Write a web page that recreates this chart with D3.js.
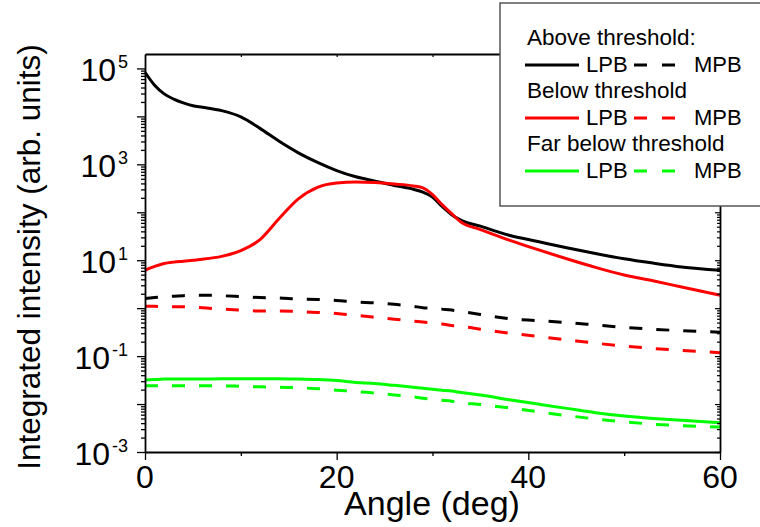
<!DOCTYPE html>
<html>
<head>
<meta charset="utf-8">
<script src="https://cdn.jsdelivr.net/npm/d3@7"></script>
<style>
  body { margin: 0; background: #fff; }
  text { font-family: "Liberation Sans", Arial, sans-serif; fill: #000; }
</style>
</head>
<body>
<script>
// angles (deg) at which the curves were read
let angles = [0, 1, 2, 3, 4, 5, 6, 8, 10, 12, 14, 16, 18, 20, 22, 24, 26, 28, 29, 30, 31, 32, 33, 35, 38, 41, 44, 47, 50, 53, 56, 60];

// log10 of integrated intensity
let aboveLPB = [4.92, 4.65, 4.47, 4.36, 4.28, 4.22, 4.19, 4.12, 3.99, 3.75, 3.48, 3.24, 3.04, 2.87, 2.74, 2.65, 2.56, 2.48, 2.42, 2.32, 2.12, 1.95, 1.83, 1.71, 1.52, 1.39, 1.26, 1.14, 1.03, 0.94, 0.86, 0.79];
let aboveMPB = [0.20, 0.22, 0.24, 0.25, 0.26, 0.27, 0.27, 0.26, 0.24, 0.22, 0.21, 0.19, 0.18, 0.16, 0.13, 0.11, 0.08, 0.04, 0.01, 0.00, -0.02, -0.04, -0.07, -0.13, -0.22, -0.26, -0.30, -0.35, -0.40, -0.44, -0.47, -0.50];
let belowLPB = [0.79, 0.87, 0.93, 0.96, 0.98, 1.00, 1.02, 1.08, 1.20, 1.43, 1.87, 2.28, 2.52, 2.61, 2.63, 2.62, 2.59, 2.55, 2.51, 2.37, 2.16, 1.97, 1.79, 1.64, 1.42, 1.22, 1.03, 0.85, 0.69, 0.57, 0.44, 0.27];
let belowMPB = [0.04, 0.04, 0.03, 0.03, 0.03, 0.02, 0.01, -0.02, -0.04, -0.06, -0.06, -0.07, -0.09, -0.11, -0.15, -0.19, -0.23, -0.27, -0.29, -0.31, -0.33, -0.36, -0.38, -0.44, -0.52, -0.59, -0.66, -0.73, -0.79, -0.84, -0.88, -0.93];
let farLPB = [-1.50, -1.49, -1.48, -1.48, -1.48, -1.48, -1.48, -1.47, -1.47, -1.47, -1.47, -1.48, -1.49, -1.51, -1.55, -1.57, -1.61, -1.65, -1.67, -1.69, -1.71, -1.73, -1.76, -1.81, -1.91, -2.00, -2.09, -2.18, -2.25, -2.30, -2.34, -2.39];
let farMPB = [-1.62, -1.62, -1.62, -1.62, -1.62, -1.62, -1.62, -1.62, -1.63, -1.64, -1.65, -1.66, -1.68, -1.71, -1.74, -1.77, -1.81, -1.85, -1.88, -1.90, -1.92, -1.94, -1.97, -2.01, -2.08, -2.16, -2.24, -2.31, -2.37, -2.42, -2.45, -2.48];

let xTicks = [0, 10, 20, 30, 40, 50, 60];
let xLabels = [0, 20, 40, 60];
let yDecades = [-3, -2, -1, 0, 1, 2, 3, 4, 5];
let yLabelled = [-3, -1, 1, 3, 5];

let legendTitles = ["Above threshold:", "Below threshold", "Far below threshold"];
let legendColors = ["#000000", "#ff0000", "#00ff00"];

//---------------------------------------------------------------------------------------------------//

let width = 760, height = 527;
let svg = d3.select('body').append('svg').attr('width', width).attr('height', height);

let x = d3.scaleLinear().domain([0, 60]).range([145, 720]);
let y = d3.scaleLog().domain([1e-3, 2e5]).range([452, 54]);

let series = [
    { values: aboveLPB, color: legendColors[0], dash: null },
    { values: aboveMPB, color: legendColors[0], dash: '13,14' },
    { values: belowLPB, color: legendColors[1], dash: null },
    { values: belowMPB, color: legendColors[1], dash: '13,14' },
    { values: farLPB, color: legendColors[2], dash: null },
    { values: farMPB, color: legendColors[2], dash: '13,14' }
];

let lineFunction = d3.line()
    .x((d, i) => x(angles[i]))
    .y(d => y(Math.pow(10, d)))
    .curve(d3.curveMonotoneX);

svg.selectAll('path.curve').data(series).enter().append('path')
    .attr('class', 'curve')
    .attr('d', d => lineFunction(d.values))
    .attr('fill', 'none')
    .attr('stroke', d => d.color)
    .attr('stroke-width', 3)
    .attr('stroke-dasharray', d => d.dash);

//---------------------------------------------------------------------------------------------------//
// axes

let minorLog = [];
yDecades.forEach(e => {
    minorLog.push(Math.pow(10, e));
    if (e < 5) for (let k = 2; k <= 9; k++) minorLog.push(k * Math.pow(10, e));
});
let isMajor = v => Math.abs(Math.log10(v) - Math.round(Math.log10(v))) < 1e-6;

let leftAxis = svg.append('g').attr('transform', 'translate(145,0)')
    .call(d3.axisLeft(y).tickValues(minorLog).tickFormat('').tickSizeOuter(0));
leftAxis.selectAll('.tick line').attr('x2', d => isMajor(d) ? -8 : -4).attr('stroke-width', 1.3);

let rightAxis = svg.append('g').attr('transform', 'translate(720,0)')
    .call(d3.axisRight(y).tickValues(minorLog).tickFormat('').tickSizeOuter(0));
rightAxis.selectAll('.tick line').attr('x2', d => isMajor(d) ? -5 : -3).attr('stroke-width', 1.2);

let bottomAxis = svg.append('g').attr('transform', 'translate(0,452)')
    .call(d3.axisBottom(x).tickValues(xTicks).tickFormat('').tickSizeOuter(0));
bottomAxis.selectAll('.tick line').attr('y2', d => xLabels.includes(d) ? 8 : 4).attr('stroke-width', 1.3);

let topAxis = svg.append('g').attr('transform', 'translate(0,54)')
    .call(d3.axisTop(x).tickValues(xTicks.slice(1, -1)).tickFormat('').tickSizeOuter(0));
topAxis.selectAll('.tick line').attr('y2', 3).attr('stroke-width', 1.2);

svg.selectAll('.domain').attr('stroke', '#000').attr('stroke-width', 1.8);

// x tick labels
svg.selectAll('text.xlab').data(xLabels).enter().append('text')
    .attr('class', 'xlab')
    .attr('x', d => x(d))
    .attr('y', 488)
    .attr('text-anchor', 'middle')
    .style('font-size', '32px')
    .text(d => d);

// y tick labels with superscripts
let yLab = svg.selectAll('text.ylab').data(yLabelled).enter().append('text')
    .attr('class', 'ylab')
    .attr('x', 128)
    .attr('y', d => y(Math.pow(10, d)) + 13)
    .attr('text-anchor', 'end')
    .style('font-size', '32px');
yLab.append('tspan').text('10');
yLab.append('tspan').attr('dx', 2).attr('dy', -13).style('font-size', '18px').text(d => d);

// axis titles
svg.append('text')
    .attr('x', 432)
    .attr('y', 515)
    .attr('text-anchor', 'middle')
    .style('font-size', '34px')
    .text('Angle (deg)');

svg.append('text')
    .attr('transform', 'translate(40,257) rotate(-90)')
    .attr('text-anchor', 'middle')
    .style('font-size', '31.5px')
    .text('Integrated intensity (arb. units)');

//---------------------------------------------------------------------------------------------------//
// legend

let legend = svg.append('g');
legend.append('rect')
    .attr('x', 500).attr('y', 3)
    .attr('width', 280).attr('height', 203)
    .attr('fill', '#fff')
    .attr('stroke', '#555')
    .attr('stroke-width', 1.5);

let rows = legend.selectAll('g.row').data(legendTitles).enter().append('g')
    .attr('class', 'row')
    .attr('transform', (d, i) => 'translate(0,' + (i * 53) + ')');

rows.append('text').attr('x', 527).attr('y', 45).style('font-size', '22.5px').text(d => d);
rows.append('line')
    .attr('x1', 525).attr('x2', 579).attr('y1', 65).attr('y2', 65)
    .attr('stroke', (d, i) => legendColors[i]).attr('stroke-width', 3);
rows.append('text').attr('x', 586).attr('y', 72).style('font-size', '22px').text('LPB');
rows.append('line')
    .attr('x1', 634).attr('x2', 676).attr('y1', 65).attr('y2', 65)
    .attr('stroke', (d, i) => legendColors[i]).attr('stroke-width', 3)
    .attr('stroke-dasharray', '13,15');
rows.append('text').attr('x', 694).attr('y', 72).style('font-size', '22px').text('MPB');
</script>
</body>
</html>
